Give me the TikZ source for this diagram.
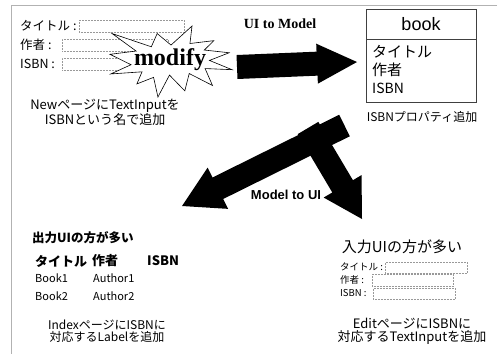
\documentclass[tikz,border=0pt]{standalone}
\usepackage{fontspec}
\usetikzlibrary{calc}
\newfontfamily\jp{Noto Sans CJK JP}
\newfontfamily\lsans{Liberation Sans}
\newfontfamily\lserif{Liberation Serif}
\newcommand\fsz[1]{\fontsize{#1}{#1}\selectfont}
\begin{document}
\begin{tikzpicture}[x=1pt,y=-1pt,
  txt/.style={inner sep=0pt},
  field/.style={draw=gray!80, densely dotted, line width=0.5pt, inner sep=0pt, anchor=north west},
  frame/.style={draw=gray!60, line width=0.8pt},
  blk/.style={fill=black, draw=none}]
\useasboundingbox (0,0) rectangle (502,354);
% frame
\draw[frame] (497,5) -- (11,5) -- (11,354);

% ---- top-left form
\node[field, minimum width=105pt, minimum height=12pt] (f1) at (79,20) {};
\node[field, minimum width=106pt, minimum height=12pt] (f2) at (62,39) {};
\node[field, minimum width=106pt, minimum height=12pt] (f3) at (62,58) {};
\node[txt, anchor=west, font=\jp\fsz{12.5}] (l1) at (20,26) {タイトル :};
\node[txt, anchor=west, font=\jp\fsz{12.5}] (l2) at (20,45) {作者 :};
\node[txt, anchor=west, font=\jp\fsz{12.5}] (l3) at (20,64) {ISBN :};
% star
\begin{scope}[shift={(110,26)}, x=0.5648pt, y=-0.3287pt]
\draw[fill=white, line width=0.6pt, line join=miter]
 (108,58) -- (145.22,0) -- (141.55,53.25) -- (183.80,44.57) -- (167.02,73.15)
 -- (210.97,81.37) -- (176.07,104.75) -- (216,132.90) -- (168.37,129.42)
 -- (181.45,180.95) -- (140.20,144.57) -- (132.47,197.37) -- (105.32,149.35)
 -- (84.85,216) -- (77.15,156.27) -- (47.62,176.17) -- (56.67,139.37)
 -- (1.35,145.87) -- (37.22,117.75) -- (0,86.15) -- (46.27,76.17)
 -- (3.70,22.95) -- (73.12,63.20) -- (83.52,22.95) -- cycle;
\end{scope}
\node[txt, font=\lserif\bfseries\fsz{24}] (mod) at (170,60) {modify};
\node[txt, align=center, font=\jp\fsz{13}] (cap1) at (105,112)
  {\fontsize{13}{15}\selectfont NewページにTextInputを\\ISBNという名で追加};

% ---- UI to Model arrow
\node[txt, font=\lserif\bfseries\fsz{14}] (u2m) at (280,24) {UI to Model};
\coordinate (t1) at (237,67);
\coordinate (p1) at (357,62);
\coordinate (b1) at ($(p1)!40pt!(t1)$);
\fill[blk] ($(t1)!12pt!90:(p1)$) -- ($(b1)!12pt!-90:(t1)$) -- ($(b1)!20pt!-90:(t1)$)
  -- (p1) -- ($(b1)!20pt!90:(t1)$) -- ($(b1)!12pt!90:(t1)$) -- ($(t1)!12pt!-90:(p1)$) -- cycle;

% ---- book class box
\node[draw=black!75, line width=0.7pt, minimum width=110pt, minimum height=93pt, inner sep=0pt, anchor=north west] (book) at (366,9) {};
\draw[black!75, line width=0.7pt] ($(book.north west)+(0,30)$) -- ($(book.north east)+(0,30)$);
\node[txt, font=\lsans\fsz{18}] (bt) at (421,24) {book};
\node[txt, anchor=west, font=\jp\fsz{15}] (b1t) at (372,52) {タイトル};
\node[txt, anchor=west, font=\jp\fsz{15}] (b2t) at (372,70) {作者};
\node[txt, anchor=west, font=\jp\fsz{14}] (b3t) at (372,88) {ISBN};
\node[txt, font=\jp\fsz{12}] (cap2) at (422,117) {ISBNプロパティ追加};

% ---- Model to UI arrows
\coordinate (t3) at (308,128);
\coordinate (p3) at (362,219);
\coordinate (b3) at ($(p3)!38pt!(t3)$);
\fill[blk] ($(t3)!12pt!90:(p3)$) -- ($(b3)!12pt!-90:(t3)$) -- ($(b3)!22pt!-90:(t3)$)
  -- (p3) -- ($(b3)!22pt!90:(t3)$) -- ($(b3)!12pt!90:(t3)$) -- ($(t3)!12pt!-90:(p3)$) -- cycle;
\coordinate (t2) at (344.5,125.5);
\coordinate (p2) at (182,206);
\coordinate (b2) at ($(p2)!40pt!(t2)$);
\fill[blk] ($(t2)!12pt!90:(p2)$) -- ($(b2)!12pt!-90:(t2)$) -- ($(b2)!23pt!-90:(t2)$)
  -- (p2) -- ($(b2)!23pt!90:(t2)$) -- ($(b2)!12pt!90:(t2)$) -- ($(t2)!12pt!-90:(p2)$) -- cycle;
\node[txt, font=\lsans\bfseries\fsz{13}] (m2u) at (286,195) {Model to UI};

% ---- lower-left: output UI
\node[txt, anchor=west, font=\jp\bfseries\fsz{12.5}] (o0) at (32,238) {出力UIの方が多い};
\node[txt, anchor=west, font=\jp\bfseries\fsz{13}] (oh1) at (35,261) {タイトル};
\node[txt, anchor=west, font=\jp\bfseries\fsz{13}] (oh2) at (92,261) {作者};
\node[txt, anchor=west, font=\jp\bfseries\fsz{13}] (oh3) at (147,261) {ISBN};
\node[txt, anchor=west, font=\jp\fsz{11}] (r11) at (35,278) {Book1};
\node[txt, anchor=west, font=\jp\fsz{11}] (r12) at (93,278) {Author1};
\node[txt, anchor=west, font=\jp\fsz{11}] (r21) at (35,296) {Book2};
\node[txt, anchor=west, font=\jp\fsz{11}] (r22) at (93,296) {Author2};
\node[txt, align=center, font=\jp\fsz{12}] (cap3) at (107,331)
  {\fontsize{12}{16}\selectfont IndexページにISBNに\\対応するLabelを追加};

% ---- lower-right: input UI
\node[txt, font=\jp\fsz{15}] (i0) at (402,247) {入力UIの方が多い};
\node[field, minimum width=82pt, minimum height=11pt] (f4) at (385,262) {};
\node[field, minimum width=81pt, minimum height=12pt] (f5) at (372,274) {};
\node[field, minimum width=82pt, minimum height=11pt] (f6) at (373,288) {};
\node[txt, anchor=west, font=\jp\fsz{9.5}] (l4) at (340,267) {タイトル :};
\node[txt, anchor=west, font=\jp\fsz{9.5}] (l5) at (340,280) {作者 :};
\node[txt, anchor=west, font=\jp\fsz{9.5}] (l6) at (340,293) {ISBN :};
\node[txt, align=center, font=\jp\fsz{13}] (cap4) at (412,331)
  {\fontsize{13}{17}\selectfont EditページにISBNに\\対応するTextInputを追加};
\end{tikzpicture}
\end{document}
